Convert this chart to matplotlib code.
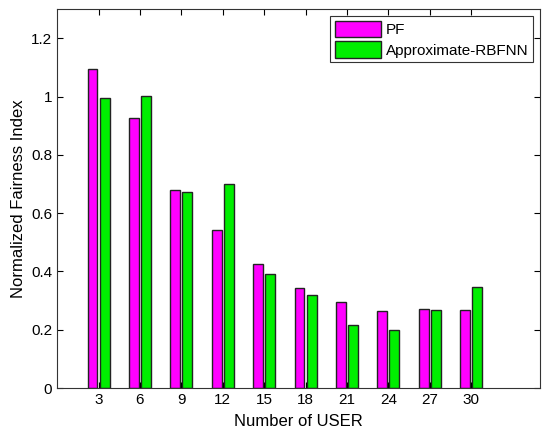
import numpy as np
import matplotlib.pyplot as plt

plt.rcParams['font.family'] = ['Liberation Sans', 'DejaVu Sans']

# number of users and the two fairness series
users = [3, 6, 9, 12, 15, 18, 21, 24, 27, 30]
pf = [1.095, 0.928, 0.680, 0.543, 0.425, 0.342, 0.295, 0.265, 0.272, 0.268]
rbfnn = [0.995, 1.003, 0.672, 0.700, 0.393, 0.318, 0.216, 0.200, 0.268, 0.345]

fig = plt.figure(figsize=(5.5, 4.36), dpi=100)
ax = fig.add_axes([0.104, 0.110, 0.878, 0.869])

x = np.array(users, dtype=float)
w = 0.72
off = 0.44
ax.bar(x - off, pf, width=w, color='#ff00ff', edgecolor='#222222', linewidth=1.0, label='PF')
ax.bar(x + off, rbfnn, width=w, color='#00ee00', edgecolor='#222222', linewidth=1.0,
       label='Approximate-RBFNN')

ax.set_xlim(0, 35)
ax.set_ylim(0, 1.3)
ax.set_xticks(users)
ax.set_yticks([0, 0.2, 0.4, 0.6, 0.8, 1.0, 1.2])
ax.set_yticklabels(['0', '0.2', '0.4', '0.6', '0.8', '1', '1.2'])
ax.tick_params(direction='in', top=True, right=True, length=4, labelsize=11, width=0.8)
for s in ax.spines.values():
    s.set_color('#333333')

ax.set_xlabel('Number of USER', fontsize=12, labelpad=5)
ax.set_ylabel('Normalized Fairness Index', fontsize=12, labelpad=4)

leg = ax.legend(loc='upper right', fontsize=11, handlelength=3.0, handleheight=1.25,
                fancybox=False, framealpha=1, edgecolor='#333333', borderaxespad=0.45,
                labelspacing=0.3, handletextpad=0.35, borderpad=0.3)
leg.get_frame().set_linewidth(0.8)

fig.savefig('out.png', dpi=100)
